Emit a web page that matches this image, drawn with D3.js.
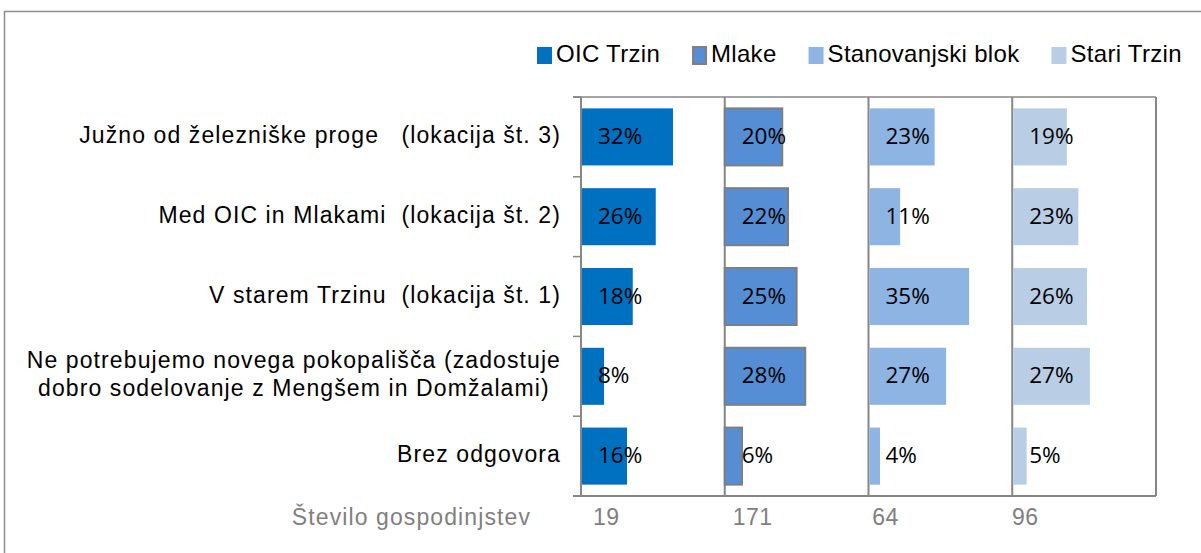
<!DOCTYPE html>
<html>
<head>
<meta charset="utf-8">
<script src="https://cdn.jsdelivr.net/npm/d3@7"></script>
<style>
  body { margin: 0; background: #fff; }
  svg text { white-space: pre; }
</style>
</head>
<body>
<div id="chart"></div>
<script>
var categories = [
  ["Južno od železniške proge   (lokacija št. 3)"],
  ["Med OIC in Mlakami  (lokacija št. 2)"],
  ["V starem Trzinu  (lokacija št. 1)"],
  ["Ne potrebujemo novega pokopališča (zadostuje", "dobro sodelovanje z Mengšem in Domžalami)"],
  ["Brez odgovora"]
];
var series = ["OIC Trzin", "Mlake", "Stanovanjski blok", "Stari Trzin"];
var oicTrzin = [32, 26, 18, 8, 16];
var mlake = [20, 22, 25, 28, 6];
var stanovanjskiBlok = [23, 11, 35, 27, 4];
var stariTrzin = [19, 23, 26, 27, 5];
var households = [19, 171, 64, 96];
var householdsLabel = "Število gospodinjstev";

var values = [oicTrzin, mlake, stanovanjskiBlok, stariTrzin];
var colors = ["#0070C0", "#558ED5", "#8EB4E3", "#B9CDE5"];

var width = 1201, height = 553;
var plot = {left: 581, right: 1156, top: 97, bottom: 496};

var svg = d3.select("#chart").append("svg")
    .attr("width", width)
    .attr("height", height)
    .attr("font-family", "'Liberation Sans', Arial, sans-serif");

// outer frame
svg.append("rect")
    .attr("x", 4.5).attr("y", 11.5)
    .attr("width", width + 20).attr("height", height + 20)
    .attr("fill", "none")
    .attr("stroke", "#8c8c8c")
    .attr("stroke-width", 1.5);

var panel = d3.scaleBand()
    .domain(series)
    .range([plot.left, plot.right]);

var x = d3.scaleLinear()
    .domain([0, 50])
    .range([0, panel.bandwidth()]);

var y = d3.scaleBand()
    .domain(d3.range(categories.length))
    .range([plot.top, plot.bottom]);

var barH = y.bandwidth() * 0.715;

// plot box + axis lines
var axisColor = "#868686";
var g = svg.append("g");
g.append("line")
    .attr("x1", plot.left - 8).attr("x2", plot.right)
    .attr("y1", plot.top).attr("y2", plot.top)
    .attr("stroke", axisColor).attr("stroke-width", 1.5);
g.append("line")
    .attr("x1", plot.left - 8).attr("x2", plot.right)
    .attr("y1", plot.bottom).attr("y2", plot.bottom)
    .attr("stroke", axisColor).attr("stroke-width", 2);
g.append("line")
    .attr("x1", plot.right).attr("x2", plot.right)
    .attr("y1", plot.top).attr("y2", plot.bottom)
    .attr("stroke", axisColor).attr("stroke-width", 2);
g.selectAll(".pline")
  .data(series)
  .enter().append("line")
    .attr("x1", function(d) { return panel(d); })
    .attr("x2", function(d) { return panel(d); })
    .attr("y1", plot.top).attr("y2", plot.bottom)
    .attr("stroke", axisColor).attr("stroke-width", 2);
// ticks on the left axis
g.selectAll(".tick")
  .data(d3.range(categories.length + 1))
  .enter().append("line")
    .attr("x1", plot.left - 8).attr("x2", plot.left)
    .attr("y1", function(i) { return plot.top + i * y.step(); })
    .attr("y2", function(i) { return plot.top + i * y.step(); })
    .attr("stroke", axisColor).attr("stroke-width", 1.5);

// bars
series.forEach(function(s, si) {
  var sg = svg.append("g");
  sg.selectAll("rect")
    .data(values[si])
    .enter().append("rect")
      .attr("x", panel(s) + (si == 1 ? 0 : 1))
      .attr("y", function(d, i) { return y(i) + (y.bandwidth() - barH) / 2; })
      .attr("width", function(d) { return x(d) - (si == 1 ? 0 : 1); })
      .attr("height", barH)
      .attr("fill", colors[si])
      .attr("stroke", si == 1 ? "#7f7f7f" : "none")
      .attr("stroke-width", 2);

  sg.selectAll("text")
    .data(values[si])
    .enter().append("text")
      .attr("x", panel(s) + 17)
      .attr("y", function(d, i) { return y(i) + y.bandwidth() / 2 + 1; })
      .attr("dominant-baseline", "middle")
      .attr("font-family", "'Open Sans', sans-serif")
      .attr("font-size", 22.5)
      .attr("fill", "#000")
      .text(function(d) { return d + "%"; });
});

// category labels
var labels = svg.append("g")
    .attr("font-size", 23)
    .attr("letter-spacing", 1.1)
    .attr("fill", "#000");
categories.forEach(function(lines, i) {
  var cy = y(i) + y.bandwidth() / 2;
  if (lines.length == 1) {
    labels.append("text")
      .attr("x", 561)
      .attr("y", cy)
      .attr("text-anchor", "end")
      .attr("dominant-baseline", "middle")
      .text(lines[0]);
  } else {
    var t1 = labels.append("text")
      .attr("x", 561)
      .attr("y", cy - 14)
      .attr("text-anchor", "end")
      .attr("dominant-baseline", "middle")
      .text(lines[0]);
    var w1 = t1.node().getComputedTextLength();
    labels.append("text")
      .attr("x", 561 - w1 / 2)
      .attr("y", cy + 14)
      .attr("text-anchor", "middle")
      .attr("dominant-baseline", "middle")
      .text(lines[1]);
  }
});

// household counts row
var countY = 519;
svg.append("text")
    .attr("x", 531)
    .attr("y", countY)
    .attr("text-anchor", "end")
    .attr("dominant-baseline", "middle")
    .attr("font-size", 23)
    .attr("letter-spacing", 1.1)
    .attr("fill", "#808080")
    .text(householdsLabel);
var countX = d3.scalePoint()
    .domain(d3.range(households.length))
    .range([593, 1012]);
svg.selectAll(".count")
  .data(households)
  .enter().append("text")
    .attr("x", function(d, i) { return countX(i); })
    .attr("y", countY)
    .attr("dominant-baseline", "middle")
    .attr("font-size", 23)
    .attr("letter-spacing", 0.5)
    .attr("fill", "#808080")
    .text(function(d) { return d; });

// legend
var legend = svg.append("g");
var lx = 537;
series.forEach(function(s, si) {
  legend.append("rect")
    .attr("x", si == 1 ? lx + 1 : lx).attr("y", 47)
    .attr("width", si == 1 ? 13 : 15).attr("height", 17)
    .attr("fill", colors[si])
    .attr("stroke", si == 1 ? "#7f7f7f" : "none")
    .attr("stroke-width", 2);
  var t = legend.append("text")
    .attr("x", lx + 19)
    .attr("y", 56)
    .attr("dominant-baseline", "middle")
    .attr("font-size", 24)
    .attr("letter-spacing", 0.3)
    .attr("fill", "#000")
    .text(s);
  lx += 19 + t.node().getComputedTextLength() + 32;
});
</script>
</body>
</html>
